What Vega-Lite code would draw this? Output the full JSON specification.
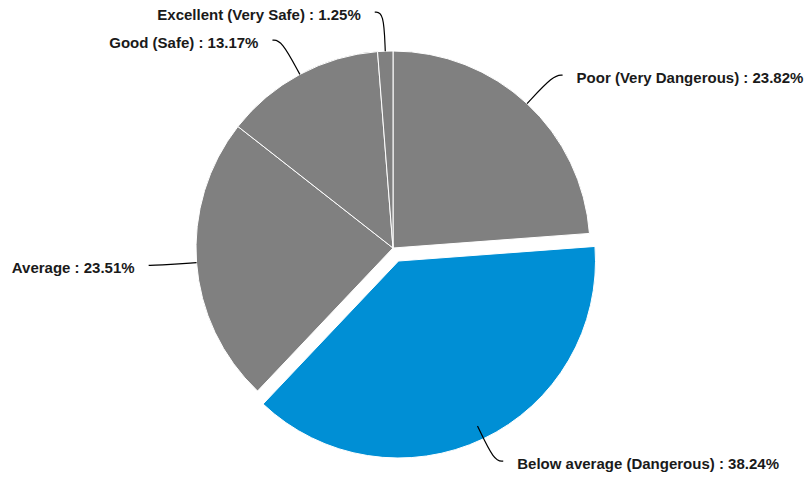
{
  "$schema": "https://vega.github.io/schema/vega-lite/v6.json",
  "width": 806,
  "height": 483,
  "autosize": {"type": "none"},
  "padding": 0,
  "background": "white",
  "config": {"view": {"stroke": null}},
  "data": {"values": [
    {"idx": 1, "cat": "Poor (Very Dangerous)", "pct": 23.82},
    {"idx": 2, "cat": "Below average (Dangerous)", "pct": 38.24},
    {"idx": 3, "cat": "Average", "pct": 23.51},
    {"idx": 4, "cat": "Good (Safe)", "pct": 13.17},
    {"idx": 5, "cat": "Excellent (Very Safe)", "pct": 1.25}
  ]},
  "transform": [
    {"stack": "pct", "groupby": [], "sort": [{"field": "idx", "order": "ascending"}], "offset": "normalize", "as": ["s0", "s1"]},
    {"calculate": "(datum.s0 + datum.s1) * PI", "as": "mid"},
    {"calculate": "datum.cat + ' : ' + format(datum.pct, '.2f') + '%'", "as": "label"},
    {"calculate": "sin(datum.mid) >= 0 ? 1 : -1", "as": "side"},
    {"calculate": "197 * sin(datum.mid)", "as": "x0"},
    {"calculate": "197 * cos(datum.mid)", "as": "y0"},
    {"calculate": "236 * sin(datum.mid)", "as": "x1"},
    {"calculate": "236 * cos(datum.mid)", "as": "y1"},
    {"calculate": "datum.x1 + datum.side * 9", "as": "x2"},
    {"calculate": "datum.x2 + datum.side * 14", "as": "lx"},
    {"calculate": "datum.y1 - 3", "as": "ly"}
  ],
  "layer": [
    {
      "transform": [{"filter": "datum.idx != 2"}],
      "mark": {"type": "arc", "radius": 197, "stroke": "white", "strokeWidth": 1},
      "encoding": {
        "theta": {"field": "s0", "type": "quantitative", "scale": {"domain": [0, 1], "range": [0, 6.283185307]}},
        "theta2": {"field": "s1"},
        "x": {"datum": 0, "type": "quantitative", "scale": {"domain": [-393, 413]}, "axis": null},
        "y": {"datum": 0, "type": "quantitative", "scale": {"domain": [-235, 248]}, "axis": null},
        "color": {"value": "#808080"}
      }
    },
    {
      "transform": [{"filter": "datum.idx == 2"}],
      "mark": {"type": "arc", "radius": 197, "xOffset": 5.5, "yOffset": 13, "stroke": "white", "strokeWidth": 1},
      "encoding": {
        "theta": {"field": "s0", "type": "quantitative", "scale": {"domain": [0, 1], "range": [0, 6.283185307]}},
        "theta2": {"field": "s1"},
        "x": {"datum": 0, "type": "quantitative", "scale": {"domain": [-393, 413]}, "axis": null},
        "y": {"datum": 0, "type": "quantitative", "scale": {"domain": [-235, 248]}, "axis": null},
        "color": {"value": "#008fd5"}
      }
    },
    {
      "transform": [
        {"fold": ["x0", "x1", "x2"], "as": ["k", "xv"]},
        {"calculate": "datum.k == 'x0' ? datum.y0 : datum.y1", "as": "yv"}
      ],
      "mark": {"type": "line", "interpolate": "basis", "stroke": "#000000", "strokeWidth": 1.2},
      "encoding": {
        "x": {"field": "xv", "type": "quantitative", "scale": {"domain": [-393, 413]}, "axis": null},
        "y": {"field": "yv", "type": "quantitative", "scale": {"domain": [-235, 248]}, "axis": null},
        "detail": {"field": "cat"},
        "order": {"field": "k", "type": "ordinal"}
      }
    },
    {
      "transform": [{"filter": "datum.side > 0"}],
      "mark": {"type": "text", "align": "left", "baseline": "middle", "font": "Liberation Sans", "fontSize": 15, "fontWeight": "bold", "color": "#1a1a1a"},
      "encoding": {
        "x": {"field": "lx", "type": "quantitative", "scale": {"domain": [-393, 413]}, "axis": null},
        "y": {"field": "ly", "type": "quantitative", "scale": {"domain": [-235, 248]}, "axis": null},
        "text": {"field": "label"}
      }
    },
    {
      "transform": [{"filter": "datum.side < 0"}],
      "mark": {"type": "text", "align": "right", "baseline": "middle", "font": "Liberation Sans", "fontSize": 15, "fontWeight": "bold", "color": "#1a1a1a"},
      "encoding": {
        "x": {"field": "lx", "type": "quantitative", "scale": {"domain": [-393, 413]}, "axis": null},
        "y": {"field": "ly", "type": "quantitative", "scale": {"domain": [-235, 248]}, "axis": null},
        "text": {"field": "label"}
      }
    }
  ]
}
